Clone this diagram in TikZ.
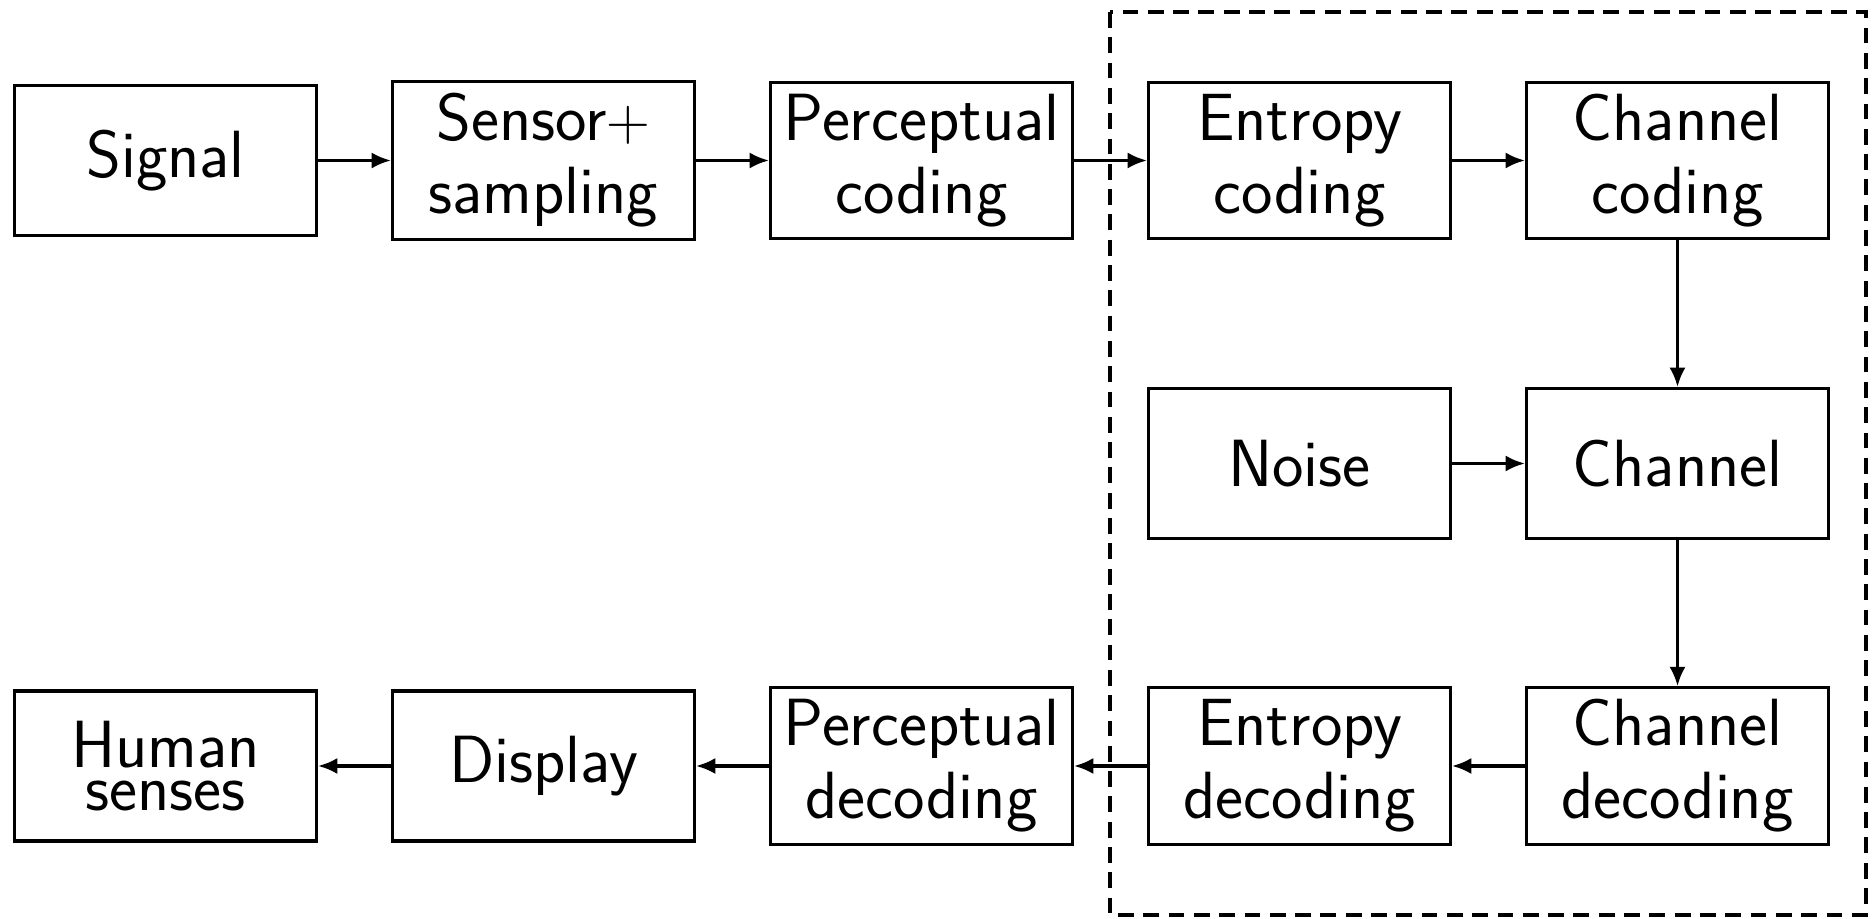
\documentclass[tikz,border=0pt]{standalone}
\usepackage{tikz}
\usetikzlibrary{arrows.meta}

\begin{document}
\begin{tikzpicture}[
    block/.style={draw, line width=0.9pt, minimum width=3.02cm, minimum height=1.5cm,
        align=center, font=\fontsize{19}{20.8}\selectfont\sffamily},
    flow/.style={line width=0.9pt, -{Latex[length=5.5pt, width=4.6pt]}}
]

    \useasboundingbox (0, 0) rectangle (18.75, -9.19);

    % dashed region round the channel part
    \draw[dash pattern=on 4.5pt off 2.7pt, line width=0.9pt] (11.10, -0.12) rectangle (18.66, -9.15);

    % top row
    \node[block] (signal) at (1.655, -1.605) {Signal};
    \node[block] (sensor) at (5.435, -1.605) {Sensor$+$\\sampling};
    \node[block] (percod) at (9.215, -1.605) {Perceptual\\coding};
    \node[block] (entcod) at (12.995, -1.605) {Entropy\\coding};
    \node[block] (chacod) at (16.775, -1.605) {Channel\\coding};

    % middle row
    \node[block] (noise) at (12.995, -4.635) {Noise};
    \node[block] (channel) at (16.775, -4.635) {Channel};

    % bottom row
    \node[block] (human) at (1.655, -7.66) {Human\\[-8.5pt]senses};
    \node[block] (display) at (5.435, -7.66) {Display};
    \node[block] (perdec) at (9.215, -7.66) {Perceptual\\decoding};
    \node[block] (entdec) at (12.995, -7.66) {Entropy\\decoding};
    \node[block] (chadec) at (16.775, -7.66) {Channel\\decoding};

    \draw[flow] (signal) -- (sensor);
    \draw[flow] (sensor) -- (percod);
    \draw[flow] (percod) -- (entcod);
    \draw[flow] (entcod) -- (chacod);
    \draw[flow] (chacod) -- (channel);
    \draw[flow] (noise) -- (channel);
    \draw[flow] (channel) -- (chadec);
    \draw[flow] (chadec) -- (entdec);
    \draw[flow] (entdec) -- (perdec);
    \draw[flow] (perdec) -- (display);
    \draw[flow] (display) -- (human);

\end{tikzpicture}
\end{document}
